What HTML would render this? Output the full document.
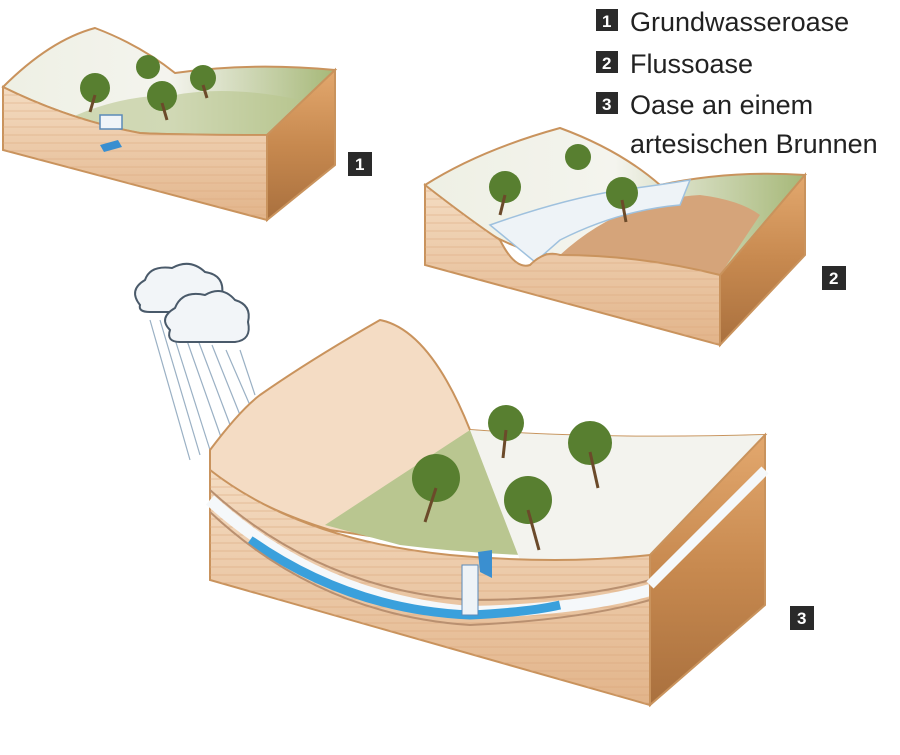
<!DOCTYPE html>
<html><head><meta charset="utf-8"><style>
html,body{margin:0;padding:0;background:#fff;width:900px;height:755px;overflow:hidden}
svg{display:block}
.lg{font-family:"Liberation Sans",sans-serif;font-size:27px;fill:#222}
.nb{font-family:"Liberation Sans",sans-serif;font-size:17px;font-weight:bold;fill:#fff}
</style></head><body>
<svg width="900" height="755" viewBox="0 0 900 755" xmlns="http://www.w3.org/2000/svg">
<defs>
<linearGradient id="top1" x1="0" y1="0" x2="1" y2="0"><stop offset="0" stop-color="#eef0e4"/><stop offset="0.5" stop-color="#f4f4ee"/><stop offset="1" stop-color="#a6b878"/></linearGradient>
<linearGradient id="front" x1="0" y1="0" x2="0" y2="1"><stop offset="0" stop-color="#f4dcc2"/><stop offset="1" stop-color="#e2b48a"/></linearGradient>
<linearGradient id="side" x1="0" y1="0" x2="0" y2="1"><stop offset="0" stop-color="#e3a86e"/><stop offset="0.5" stop-color="#c7894f"/><stop offset="1" stop-color="#a9703e"/></linearGradient>
<pattern id="stripes" width="10" height="8" patternUnits="userSpaceOnUse"><rect width="10" height="8" fill="none"/><line x1="0" y1="7" x2="10" y2="7" stroke="#d9a57a" stroke-width="1"/></pattern>
</defs>

<!-- Legend -->
<rect x="596" y="9" width="22" height="22" fill="#2a2a2a"/><text x="602" y="27" class="nb">1</text>
<text x="630" y="31" class="lg">Grundwasseroase</text>
<rect x="596" y="51" width="22" height="22" fill="#2a2a2a"/><text x="602" y="69" class="nb">2</text>
<text x="630" y="73" class="lg">Flussoase</text>
<rect x="596" y="92" width="22" height="22" fill="#2a2a2a"/><text x="602" y="110" class="nb">3</text>
<text x="630" y="114" class="lg">Oase an einem</text>
<text x="630" y="153" class="lg">artesischen Brunnen</text>

<!-- Block 1 -->
<path d="M3,87 Q50,40 95,28 Q140,45 175,73 Q250,62 335,70 L267,135 Q180,135 140,133 Q70,120 3,87Z" fill="url(#top1)" stroke="#c9935d" stroke-width="2"/>
<path d="M70,118 Q120,95 175,95 Q230,85 300,100 L267,135 Q180,135 140,133 Z" fill="#b9c690" opacity="0.6"/>
<path d="M3,87 Q70,120 140,133 Q180,135 267,135 L267,220 L3,150Z" fill="url(#front)" stroke="#c9935d" stroke-width="2"/>
<path d="M3,87 Q70,120 140,133 Q180,135 267,135 L267,220 L3,150Z" fill="url(#stripes)" opacity="0.5"/>
<path d="M267,135 L335,70 L335,165 L267,220Z" fill="url(#side)" stroke="#c9935d" stroke-width="2"/>
<rect x="100" y="115" width="22" height="14" fill="#f0f4f8" stroke="#5a8ab8" stroke-width="1.5"/>
<polygon points="100,145 118,140 122,147 104,152" fill="#3a8fd0"/>
<rect x="348" y="152" width="24" height="24" fill="#2a2a2a"/><text x="355" y="170" class="nb">1</text>

<!-- Block 2 -->
<path d="M425,185 Q480,150 560,128 Q620,150 660,185 Q730,170 805,175 L720,275 Q640,255 560,255 Q500,255 425,185Z" fill="url(#top1)" stroke="#c9935d" stroke-width="2"/>
<path d="M560,255 Q620,200 700,195 Q740,200 760,215 L720,275 Q640,255 560,255Z" fill="#d5a47a"/>
<path d="M490,225 Q560,200 620,190 Q660,185 690,180 L680,205 Q620,210 560,240 L535,262Z" fill="#eef3f7" stroke="#9fc1de" stroke-width="1.5"/>
<path d="M425,185 Q470,220 500,240 Q515,270 530,265 Q545,250 560,255 Q640,255 720,275 L720,345 L425,265Z" fill="url(#front)" stroke="#c9935d" stroke-width="2"/>
<path d="M425,185 Q470,220 500,240 Q515,270 530,265 Q545,250 560,255 Q640,255 720,275 L720,345 L425,265Z" fill="url(#stripes)" opacity="0.5"/>
<path d="M720,275 L805,175 L805,255 L720,345Z" fill="url(#side)" stroke="#c9935d" stroke-width="2"/>
<rect x="822" y="266" width="24" height="24" fill="#2a2a2a"/><text x="829" y="284" class="nb">2</text>

<!-- Cloud + rain -->
<g stroke="#9ab0c4" stroke-width="1.2">
<line x1="150" y1="320" x2="190" y2="460"/><line x1="160" y1="320" x2="200" y2="455"/><line x1="172" y1="330" x2="210" y2="450"/><line x1="185" y1="335" x2="222" y2="440"/><line x1="198" y1="340" x2="232" y2="430"/><line x1="212" y1="345" x2="242" y2="420"/><line x1="226" y1="350" x2="252" y2="410"/><line x1="240" y1="350" x2="255" y2="395"/>
</g>
<path d="M140,305 Q128,290 145,280 Q150,265 172,268 Q190,258 205,272 Q225,275 222,295 Q230,310 210,312 L150,312 Q138,312 140,305Z" fill="#f2f5f8" stroke="#4a5a6a" stroke-width="2"/>
<path d="M170,330 Q158,318 175,308 Q182,290 205,295 Q222,285 235,300 Q252,305 248,322 Q252,340 235,342 L180,342 Q166,342 170,330Z" fill="#f2f5f8" stroke="#4a5a6a" stroke-width="2"/>

<!-- Block 3 -->
<path d="M210,450 Q240,410 260,395 Q310,360 380,320 Q430,330 470,430 Q600,440 765,435 L650,555 Q520,560 330,530 Q250,505 210,470Z" fill="#f4dcc4" stroke="#c9935d" stroke-width="2"/>
<path d="M325,525 L470,430 Q600,440 765,435 L650,555 Q520,560 400,545Z" fill="#b9c690"/>
<path d="M470,430 Q600,440 765,435 L650,555 Q560,560 520,560 Z" fill="#f3f3ee"/>
<path d="M210,470 Q300,540 450,555 Q560,565 650,555 L650,705 L210,580Z" fill="url(#front)" stroke="#c9935d" stroke-width="2"/>
<path d="M210,470 Q300,540 450,555 Q560,565 650,555 L650,705 L210,580Z" fill="url(#stripes)" opacity="0.55"/>
<path d="M210,500 Q320,600 470,612 Q580,610 650,590" fill="none" stroke="#f5f8fa" stroke-width="12"/>
<path d="M250,540 Q350,610 470,615 Q530,612 560,605" fill="none" stroke="#3aa0dc" stroke-width="9"/>
<path d="M210,490 Q320,590 470,600 Q580,600 650,580" fill="none" stroke="#b99070" stroke-width="2"/>
<path d="M210,512 Q320,615 470,625 Q580,620 650,600" fill="none" stroke="#b99070" stroke-width="2"/>
<path d="M650,555 L765,435 L765,605 L650,705Z" fill="url(#side)" stroke="#c9935d" stroke-width="2"/>
<path d="M650,585 L765,470" stroke="#f5f8fa" stroke-width="10"/>
<rect x="462" y="565" width="16" height="50" fill="#eef3f7" stroke="#5a8ab8"/>
<polygon points="478,552 492,550 492,578 480,572" fill="#3a8fd0"/>
<rect x="790" y="606" width="24" height="24" fill="#2a2a2a"/><text x="797" y="624" class="nb">3</text>

<!-- palms -->
<g fill="#587f30">
<circle cx="95" cy="88" r="15"/><circle cx="148" cy="67" r="12"/><circle cx="203" cy="78" r="13"/><circle cx="162" cy="96" r="15"/>
<circle cx="505" cy="187" r="16"/><circle cx="578" cy="157" r="13"/><circle cx="622" cy="193" r="16"/>
<circle cx="506" cy="423" r="18"/><circle cx="590" cy="443" r="22"/><circle cx="436" cy="478" r="24"/><circle cx="528" cy="500" r="24"/>
</g>
<g stroke="#6b4a2a" stroke-width="3">
<line x1="95" y1="95" x2="90" y2="112"/><line x1="162" y1="103" x2="167" y2="120"/><line x1="203" y1="85" x2="207" y2="98"/>
<line x1="505" y1="195" x2="500" y2="215"/><line x1="622" y1="200" x2="626" y2="222"/>
<line x1="506" y1="430" x2="503" y2="458"/><line x1="590" y1="452" x2="598" y2="488"/><line x1="436" y1="488" x2="425" y2="522"/><line x1="528" y1="510" x2="539" y2="550"/>
</g>
</svg>
</body></html>
